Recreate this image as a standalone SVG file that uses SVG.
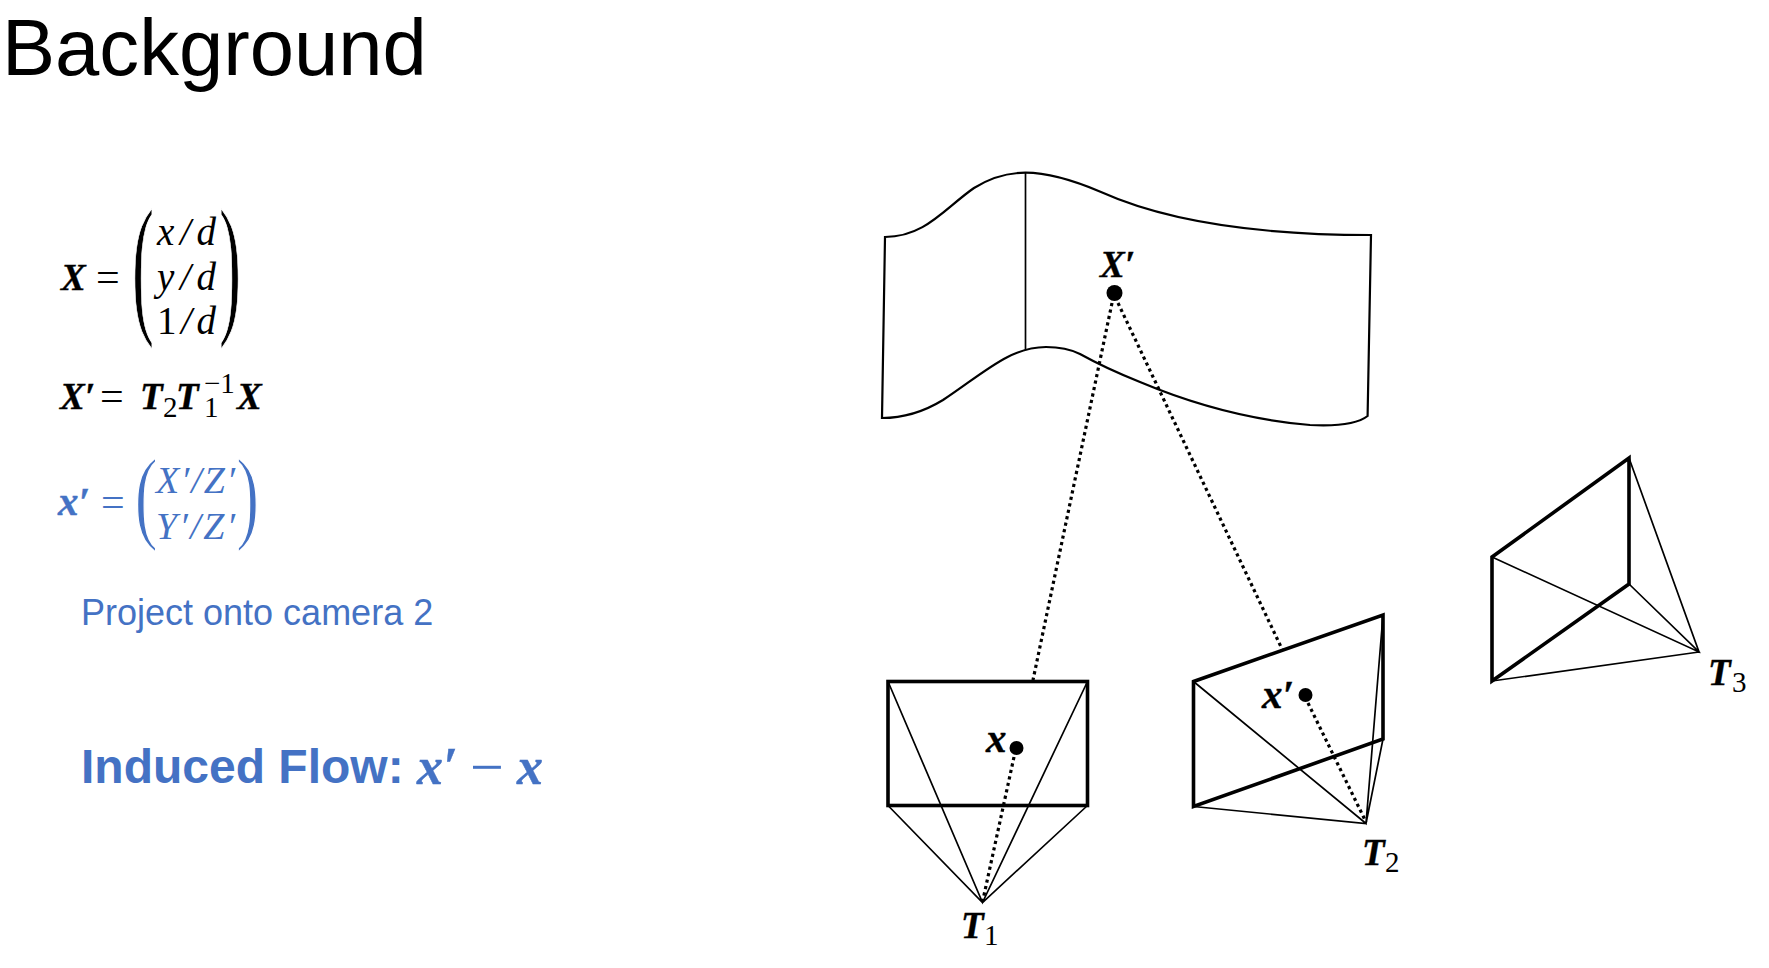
<svg xmlns="http://www.w3.org/2000/svg" width="1769" height="968" viewBox="0 0 1769 968">
<style>
text{font-family:"Liberation Serif","DejaVu Serif",serif;fill:#000}
.sans{font-family:"Liberation Sans",Arial,sans-serif}
.m{font-size:39px;font-style:italic}
.mb{font-size:37px;font-style:italic;font-weight:bold;stroke:#000;stroke-width:.4px}
.mx{font-size:41px;font-style:italic;font-weight:bold;stroke:#000;stroke-width:.4px}
.n{font-size:39px}
.eq{font-size:42px}
.s{font-size:29px}
.blue,.blue text{fill:#4472C4}
.blue .mx{stroke:#4472C4}
.par{stroke:#fff}
.thin{stroke:#000;stroke-width:1.7;fill:none}
.thick{stroke:#000;stroke-width:3.6;fill:none}
.dot{stroke:#000;stroke-width:3.2;stroke-dasharray:3.2 3.4;fill:none}
</style>
<rect width="1769" height="968" fill="#fff"/>
<text id="title" class="sans" x="2" y="75" font-size="79.6">Background</text>

<g id="eq-X">
<text class="mb" x="61" y="290">X</text>
<text class="eq" x="96" y="291">=</text>
<text class="par" stroke-width="1.2" font-size="154" transform="translate(132 316) scale(.43 1)">(</text>
<text class="par" stroke-width="1.2" font-size="154" transform="translate(219 316) scale(.43 1)">)</text>
<text class="m" x="157" y="245" textLength="59">x/d</text>
<text class="m" x="157" y="290" textLength="59">y/d</text>
<text class="n" x="157" y="334" textLength="59"><tspan>1</tspan><tspan font-style="italic">/d</tspan></text>
</g>

<g id="eq-Xprime">
<text class="mb" x="60" y="409">X′</text>
<text class="eq" x="100" y="410">=</text>
<text class="mb" x="140" y="409">T</text>
<text class="s" x="163" y="417">2</text>
<text x="176" y="409"><tspan class="mb">T</tspan><tspan class="s" x="204" y="393">−1</tspan><tspan class="s" x="204" y="417">1</tspan></text>
<text class="mb" x="237" y="409">X</text>
</g>

<g id="eq-xprime" class="blue">
<text class="mx" x="58" y="515">x′</text>
<text class="eq" x="101" y="516">=</text>
<text class="par" stroke-width="1.7" font-size="103" transform="translate(134.6 530) scale(.68 1)">(</text>
<text class="par" stroke-width="1.7" font-size="103" transform="translate(236 530) scale(.68 1)">)</text>
<text class="m" style="font-size:38px" x="156" y="493" textLength="79">X′/Z′</text>
<text class="m" style="font-size:38px" x="156" y="539" textLength="79">Y′/Z′</text>
</g>

<text id="project" class="sans" x="81" y="625" font-size="36" style="fill:#4472C4">Project onto camera 2</text>
<g id="induced" class="blue">
<text class="sans" x="81" y="783" font-size="48" font-weight="bold">Induced Flow:</text>
<text class="mx" style="font-size:52px" x="417" y="784">x′</text>
<text x="470" y="787" font-size="60">−</text>
<text class="mx" style="font-size:52px" x="517" y="784">x</text>
</g>

<g id="surface">
<path class="thin" style="stroke-width:2.2" d="M885 237C925 237 945 208 974 188C990 178 1005 172.7 1025.5 172.7C1050 172.7 1075 181 1101 192C1150 214 1230 235 1371 235L1367.6 416C1355 426 1330 426 1310 425C1250 420 1190 403 1140 382C1115 372 1098 364 1080 354C1068 348 1058 347 1046 347C1010 347 985 372 943 400C925 411 905 418 882 418Z"/>
<line class="thin" x1="1025.5" y1="173" x2="1025.5" y2="350"/>
<circle cx="1114.5" cy="293" r="8"/>
<text class="mb" x="1100" y="277">X′</text>
</g>

<g id="camera-1">
<rect class="thick" x="888" y="681.5" width="199.5" height="124"/>
<path class="thin" d="M888 681.5L982.5 902.5L1087.5 681.5M888 805.5L982.5 902.5L1087.5 805.5"/>
<circle cx="1016.5" cy="748" r="7"/>
<text class="mx" x="986" y="752">x</text>
<text class="mb" x="961" y="938">T</text>
<text class="s" x="984" y="945">1</text>
</g>

<g id="camera-2">
<path class="thick" d="M1193.5 681.5L1383 615V739L1193.5 806.5Z"/>
<path class="thin" d="M1193.5 681.5L1366 823.5L1383 615M1193.5 806.5L1366 823.5L1383 739"/>
<circle cx="1305.5" cy="695" r="7"/>
<text class="mx" x="1262" y="708">x′</text>
<text class="mb" x="1362" y="865">T</text>
<text class="s" x="1385" y="872">2</text>
</g>

<g id="camera-3">
<path class="thick" d="M1492 557L1629 458V584L1492 681Z"/>
<path class="thin" d="M1492 557L1699 652L1629 458M1492 681L1699 652L1629 584"/>
<text class="mb" x="1708" y="685">T</text>
<text class="s" x="1732" y="692">3</text>
</g>

<g id="connectors">
<line class="dot" x1="1112" y1="303" x2="1033" y2="680"/>
<line class="dot" x1="1118" y1="303" x2="1282.5" y2="650"/>
<line class="dot" x1="1014" y1="757" x2="982.5" y2="902"/>
<line class="dot" x1="1308" y1="703" x2="1366" y2="822"/>
</g>
</svg>
